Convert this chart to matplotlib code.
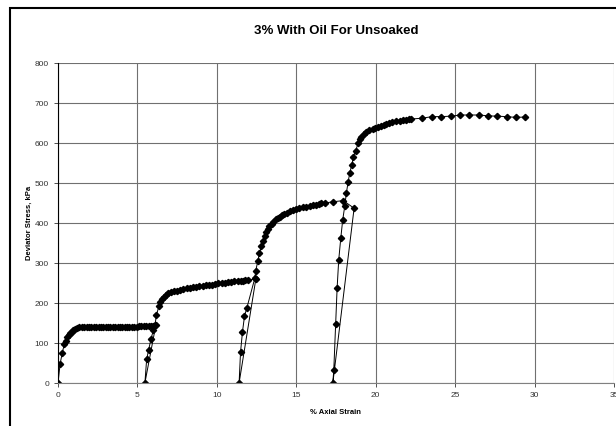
import matplotlib.pyplot as plt
from matplotlib.patches import Rectangle

plt.rcParams['font.family'] = ['Liberation Sans', 'DejaVu Sans']

# ciclo 1: carga inicial, descarga y recarga
strain_c1 = [0, 0.13, 0.27, 0.4, 0.5, 0.58, 0.67, 0.75, 0.85, 0.95, 1.07, 1.2, 1.35,
             1.5, 1.65, 1.8, 1.95, 2.1, 2.25, 2.4, 2.55, 2.7, 2.85, 3.0, 3.15, 3.3,
             3.45, 3.6, 3.75, 3.9, 4.05, 4.2, 4.35, 4.5, 4.65, 4.8, 4.95, 5.1, 5.25,
             5.4, 5.55, 5.7, 5.85, 6.0, 6.16, 5.47]
stress_c1 = [0, 47, 76, 97, 106, 114, 119, 124, 128, 132, 135, 137, 139,
             140, 141, 141, 141, 141, 141, 141, 140, 140, 140, 140, 140, 140,
             140, 140, 140, 140, 140, 141, 141, 141, 141, 141, 141, 142, 142,
             142, 142, 142, 143, 143, 145, 0]

# ciclo 2
strain_c2 = [5.58, 5.7, 5.85, 6.0, 6.1, 6.2, 6.35, 6.45, 6.55, 6.65, 6.8, 6.95, 7.1,
             7.3, 7.5, 7.7, 7.9, 8.1, 8.3, 8.5, 8.7, 8.9, 9.1, 9.3, 9.5, 9.7, 9.9,
             10.1, 10.3, 10.5, 10.7, 10.9, 11.1, 11.3, 11.5, 11.65, 11.8, 11.97,
             12.45, 11.4]
stress_c2 = [59, 82, 109, 132, 145, 170, 192, 203, 210, 216, 221, 225, 228,
             230, 231, 233, 235, 237, 238, 239, 241, 242, 243, 244, 245, 246, 248,
             249, 250, 251, 252, 253, 254, 255, 256, 256, 257, 258,
             259, 0]

# ciclo 3
strain_c3 = [11.49, 11.61, 11.74, 11.89, 12.39, 12.45, 12.58, 12.68, 12.81, 12.91,
             13.0, 13.1, 13.2, 13.3, 13.44, 13.55, 13.7, 13.85, 13.96, 14.1, 14.25,
             14.4, 14.6, 14.8, 15.0, 15.2, 15.4, 15.6, 15.85, 16.05, 16.25, 16.45,
             16.58, 16.8, 17.3, 17.95, 18.64, 17.3]
stress_c3 = [77, 127, 167, 188, 262, 281, 305, 324, 342, 356,
             368, 378, 386, 392, 398, 403, 409, 413, 416, 420, 423,
             426, 429, 432, 435, 437, 439, 441, 443, 445, 446, 448,
             449, 450, 453, 456, 437, 0]

# ciclo 4: recarga hasta el final
strain_c4 = [17.36, 17.48, 17.57, 17.67, 17.8, 17.92, 18.05, 18.15, 18.26, 18.36,
             18.49, 18.6, 18.74, 18.89, 19.0, 19.1, 19.25, 19.4, 19.6, 19.8, 19.94,
             20.15, 20.35, 20.5, 20.67, 20.85, 21.05, 21.25, 21.5, 21.7, 21.9, 22.1,
             22.25, 22.93, 23.55, 24.13, 24.72, 25.33, 25.9, 26.5, 27.06, 27.65,
             28.24, 28.82, 29.41]
stress_c4 = [32, 148, 237, 307, 362, 407, 442, 474, 502, 524,
             545, 566, 581, 599, 609, 616, 623, 628, 632, 635, 637,
             640, 643, 645, 648, 650, 652, 654, 656, 657, 658, 659,
             660, 662, 666, 666, 667, 670, 670, 670, 668, 667,
             666, 664, 665]

strain = strain_c1 + strain_c2 + strain_c3 + strain_c4
stress = stress_c1 + stress_c2 + stress_c3 + stress_c4

fig = plt.figure(figsize=(6.16, 4.26), dpi=100)
ax = fig.add_axes([58/616, 1 - 383/426, 556/616, 320/426])

ax.plot(strain, stress, '-', color='black', linewidth=0.7,
        marker='D', markersize=3.2, markerfacecolor='black', markeredgecolor='black')

ax.set_xlim(0, 35)
ax.set_ylim(0, 800)
ax.set_xticks(range(0, 36, 5))
ax.set_yticks(range(0, 801, 100))
ax.grid(True, color='#707070', linewidth=0.8)
ax.set_axisbelow(True)
ax.tick_params(labelsize=6, length=3, width=0.6, colors='#333333')

for lado in ['top', 'right']:
    ax.spines[lado].set_visible(False)
ax.spines['left'].set_color('black')
ax.spines['bottom'].set_color('#808080')

ax.set_title('3% With Oil For Unsoaked', fontsize=9.5, fontweight='bold', pad=21)
ax.set_xlabel('% Axial Strain', fontsize=5.5, fontweight='bold', labelpad=7)
ax.set_ylabel('Deviator Stress, kPa', fontsize=5.5, fontweight='bold')
ax.yaxis.set_label_coords(-25/556, 0.5)

# marco exterior del grafico
fig.patches.append(Rectangle((10/616, -0.1), 1.0, 1 - 8/426 + 0.1,
                             transform=fig.transFigure, fill=False,
                             edgecolor='black', linewidth=1.5))

fig.savefig('out.png', dpi=100)
